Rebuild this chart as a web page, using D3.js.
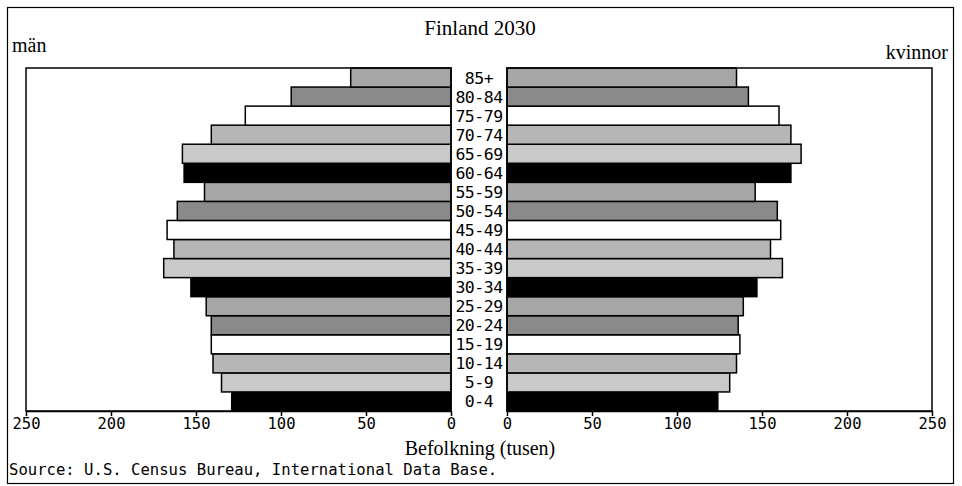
<!DOCTYPE html>
<html>
<head>
<meta charset="utf-8">
<script src="https://cdn.jsdelivr.net/npm/d3@7"></script>
<style>
body { margin: 0; background: #fff; }
</style>
</head>
<body>
<svg id="chart" width="962" height="486"></svg>
<script>
var ages = ['0-4','5-9','10-14','15-19','20-24','25-29','30-34','35-39','40-44','45-49','50-54','55-59','60-64','65-69','70-74','75-79','80-84','85+'];
var men = [129, 135, 140, 141, 141, 144, 153, 169, 163, 167, 161, 145, 157, 158, 141, 121, 94, 59];
var women = [124, 131, 135, 137, 136, 139, 147, 162, 155, 161, 159, 146, 167, 173, 167, 160, 142, 135];
var xticks = [0, 50, 100, 150, 200, 250];

var title = 'Finland 2030';
var leftLabel = 'män';
var rightLabel = 'kvinnor';
var xLabel = 'Befolkning (tusen)';
var source = 'Source: U.S. Census Bureau, International Data Base.';

// grays repeat every 6 age groups, counted from the bottom
var fills = ['#000000', '#c9c9c9', '#b6b6b6', '#ffffff', '#8a8a8a', '#a6a6a6'];

var svg = d3.select('#chart');
var top_y = 68, bottom_y = 411;
var mono = '"DejaVu Sans Mono", monospace';
var serif = '"Liberation Serif", "Times New Roman", serif';

var xl = d3.scaleLinear().domain([250, 0]).range([26, 451]);
var xr = d3.scaleLinear().domain([0, 250]).range([507, 932]);
var y = d3.scaleBand().domain(ages.slice().reverse()).range([top_y, bottom_y]).padding(0);

// outer frame
svg.append('rect').attr('x', 7.5).attr('y', 7.5).attr('width', 946).attr('height', 476)
    .attr('fill', 'none').attr('stroke', '#000').attr('stroke-width', 1.2);

svg.append('text').attr('x', 480).attr('y', 35).attr('text-anchor', 'middle')
    .attr('font-family', serif).attr('font-size', 21).text(title);
svg.append('text').attr('x', 12).attr('y', 52)
    .attr('font-family', serif).attr('font-size', 20).text(leftLabel);
svg.append('text').attr('x', 948).attr('y', 59).attr('text-anchor', 'end')
    .attr('font-family', serif).attr('font-size', 20).text(rightLabel);

var draw_bars = function(values, scale, side) {
    svg.append('g').selectAll('rect').data(values).enter().append('rect')
        .attr('x', function(d) { return side == 'left' ? scale(d) : scale(0); })
        .attr('width', function(d) { return side == 'left' ? scale(0) - scale(d) : scale(d) - scale(0); })
        .attr('y', function(d, i) { return y(ages[i]); })
        .attr('height', y.bandwidth())
        .attr('fill', function(d, i) { return fills[i % 6]; })
        .attr('stroke', '#000').attr('stroke-width', 1.5);
};
draw_bars(men, xl, 'left');
draw_bars(women, xr, 'right');

// panel frames
[xl, xr].forEach(function(s) {
    var r = s.range();
    svg.append('rect').attr('x', r[0]).attr('y', top_y).attr('width', r[1] - r[0]).attr('height', bottom_y - top_y)
        .attr('fill', 'none').attr('stroke', '#000').attr('stroke-width', 1.5);
});

svg.append('g').selectAll('text').data(ages).enter().append('text')
    .attr('x', 479)
    .attr('y', function(d) { return y(d) + y.bandwidth() / 2 + 6; })
    .attr('text-anchor', 'middle')
    .attr('font-family', mono).attr('font-size', 16.5).attr('letter-spacing', -0.5)
    .text(function(d) { return d; });

var style_axis = function(g) {
    g.select('.domain').attr('stroke-width', 1.5);
    g.selectAll('.tick line').attr('stroke-width', 1.5);
    g.selectAll('.tick text').attr('font-family', mono).attr('font-size', 15.5).attr('fill', '#000');
};
svg.append('g').attr('transform', 'translate(0,' + bottom_y + ')')
    .call(d3.axisBottom(xl).tickValues(xticks).tickSize(5).tickSizeOuter(0).tickPadding(2)).call(style_axis);
svg.append('g').attr('transform', 'translate(0,' + bottom_y + ')')
    .call(d3.axisBottom(xr).tickValues(xticks).tickSize(5).tickSizeOuter(0).tickPadding(2)).call(style_axis);

svg.append('text').attr('x', 480).attr('y', 455).attr('text-anchor', 'middle')
    .attr('font-family', serif).attr('font-size', 20).text(xLabel);
svg.append('text').attr('x', 9).attr('y', 475)
    .attr('font-family', mono).attr('font-size', 15.6).text(source);
</script>
</body>
</html>
